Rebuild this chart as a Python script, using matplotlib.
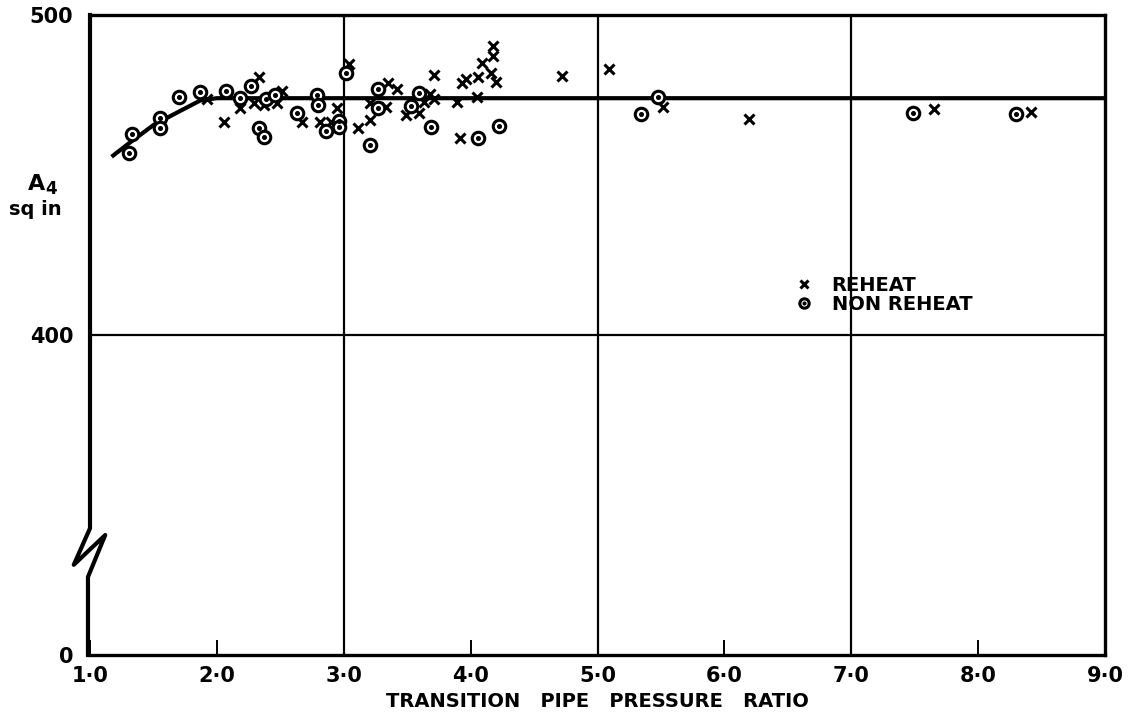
import numpy as np
import matplotlib
matplotlib.use("Agg")
import matplotlib.pyplot as plt
from matplotlib.legend_handler import HandlerTuple

# Dane nuskaitytos nuo grafiko
reheat_x = [1.92, 2.06, 2.18, 2.29, 2.33, 2.37, 2.47, 2.51, 2.67, 2.81, 2.90, 2.95,
            3.04, 3.11, 3.21, 3.21, 3.33, 3.35, 3.42, 3.49, 3.59, 3.63, 3.68, 3.71,
            3.71, 3.89, 3.92, 3.93, 3.96, 4.05, 4.06, 4.09, 4.16, 4.18, 4.18, 4.20,
            4.72, 5.09, 5.52, 6.19, 7.65, 8.42]
reheat_y = [473.7, 466.7, 470.8, 472.6, 480.5, 471.9, 472.6, 476.3, 466.7, 466.7, 466.7, 470.8,
            484.7, 464.6, 467.2, 472.6, 471.4, 478.8, 476.8, 468.8, 469.5, 472.9, 475.3, 473.7,
            481.3, 472.9, 461.5, 478.8, 479.9, 474.3, 480.7, 485.1, 482.0, 487.2, 490.3, 479.2,
            481.0, 483.0, 471.4, 467.4, 470.6, 469.8]

nonreheat_x = [1.31, 1.33, 1.55, 1.55, 1.70, 1.87, 2.07, 2.18, 2.27, 2.33, 2.37, 2.39,
               2.46, 2.63, 2.79, 2.80, 2.86, 2.96, 2.96, 3.02, 3.21, 3.27, 3.27, 3.53,
               3.59, 3.69, 4.06, 4.22, 5.34, 5.48, 7.49, 8.30]
nonreheat_y = [456.8, 462.7, 467.7, 464.6, 474.3, 476.0, 476.3, 474.0, 477.8, 464.6, 461.8, 473.7,
               475.0, 469.5, 475.0, 471.9, 463.8, 467.0, 464.9, 481.8, 459.4, 476.8, 470.8, 471.6,
               475.5, 464.9, 461.7, 465.3, 469.1, 474.3, 469.3, 469.1]

# Vidutinė kreivė
curve_x = [1.17, 1.30, 1.50, 1.70, 1.87, 2.00, 9.00]
curve_y = [455.7, 459.7, 465.6, 469.8, 473.3, 474.0, 474.0]

x_ticks = [1, 2, 3, 4, 5, 6, 7, 8, 9]
x_labels = ["1·0", "2·0", "3·0", "4·0", "5·0", "6·0", "7·0", "8·0", "9·0"]
y_ticks = [0, 400, 500]
y_labels = ["0", "400", "500"]


# Suspausta ašis: 0-400 ir 400-500 užima po pusę aukščio
def fwd(v):
    v = np.asarray(v, dtype=float)
    return np.where(v < 400, v / 4.0, v - 300.0)


def inv(u):
    u = np.asarray(u, dtype=float)
    return np.where(u < 100, u * 4.0, u + 300.0)


plt.rcParams['font.family'] = ['DejaVu Sans']
plt.rcParams['font.weight'] = 'bold'

fig = plt.figure(figsize=(11.35, 7.14), dpi=100)
ax = fig.add_axes([0.0793, 0.0826, 0.8943, 0.8964])
ax.set_yscale('function', functions=(fwd, inv))
ax.set_xlim(1, 9)
ax.set_ylim(0, 500)

# Tinklelis
for xv in [3, 5, 7]:
    ax.axvline(xv, color='black', lw=1.6, zorder=1)
ax.axhline(400, color='black', lw=1.6, zorder=1)

# Kreivė
ax.plot(curve_x, curve_y, color='black', lw=3, solid_capstyle='butt', zorder=2)

# Taškai
hx, = ax.plot(reheat_x, reheat_y, ls='none', marker='x', ms=7, mew=2.2,
              color='black', zorder=3)
ring, = ax.plot(nonreheat_x, nonreheat_y, ls='none', marker='o', ms=9, mew=2.2,
                mfc='white', mec='black', zorder=4)
dot, = ax.plot(nonreheat_x, nonreheat_y, ls='none', marker='o', ms=2.6,
               color='black', zorder=5)

# Ašys
for side in ['top', 'right', 'bottom']:
    ax.spines[side].set_linewidth(2.4)
ax.spines['left'].set_visible(False)

# Kairioji ašis su pertrūkiu
tr = ax.transAxes
ax.plot([0, 0, -0.016, 0.015, -0.002, -0.002], [1, 0.198, 0.141, 0.1875, 0.122, 0],
        transform=tr, color='black', lw=3, clip_on=False, zorder=6)

ax.set_xticks(x_ticks)
ax.set_xticklabels(x_labels, fontsize=15, fontweight='bold')
ax.set_yticks(y_ticks)
ax.set_yticklabels(y_labels, fontsize=15, fontweight='bold')
ax.yaxis.set_minor_locator(matplotlib.ticker.NullLocator())
ax.tick_params(axis='y', length=0, pad=12)
ax.tick_params(axis='x', direction='in', length=11, width=1.4, pad=8)

ax.set_xlabel("TRANSITION   PIPE   PRESSURE   RATIO", fontsize=14,
              fontweight='bold', labelpad=4)

fig.text(0.025, 0.742, "A", fontsize=16, fontweight='bold', ha='left', va='center')
fig.text(0.040, 0.735, "4", fontsize=12, fontweight='bold', ha='left', va='center')
fig.text(0.031, 0.707, "sq in", fontsize=14, fontweight='bold', ha='center', va='center')

ax.legend([hx, (ring, dot)], ["REHEAT", "NON REHEAT"],
          handler_map={tuple: HandlerTuple(ndivide=1)},
          loc='upper left', bbox_to_anchor=(0.677, 0.62), frameon=False,
          prop={'size': 14, 'weight': 'bold'}, handlelength=1.0,
          handletextpad=0.9, labelspacing=0.0, markerscale=0.75)

fig.savefig("out.png", dpi=100)
